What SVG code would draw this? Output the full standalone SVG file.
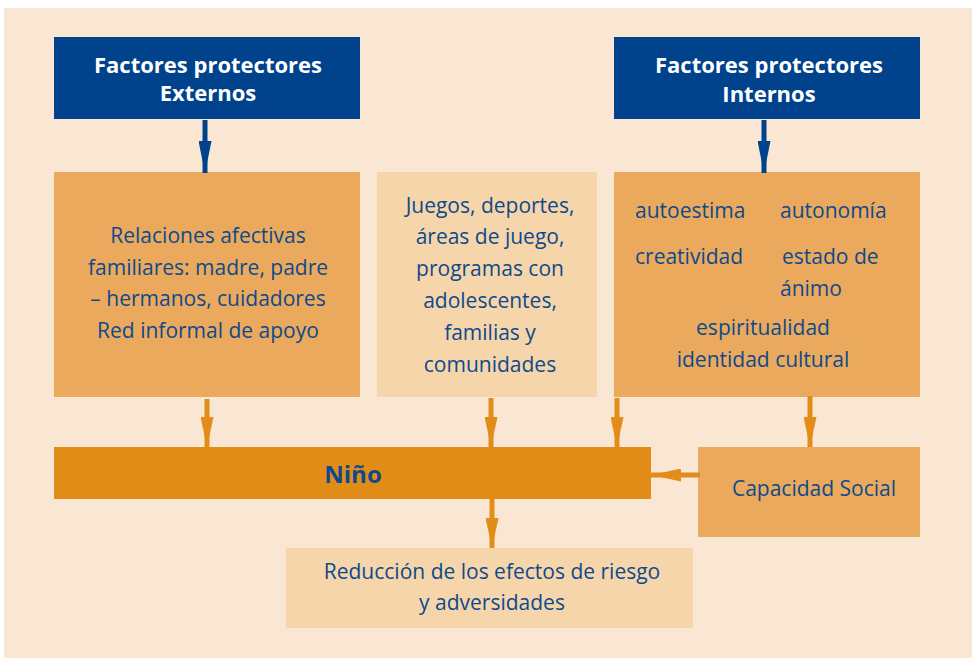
<svg xmlns="http://www.w3.org/2000/svg" width="972" height="658" viewBox="0 0 972 658">
<style>
.t{font-family:"Open Sans","Noto Sans","DejaVu Sans",sans-serif;font-size:21px;fill:#0D4A8C}
.m{text-anchor:middle}
.h{font-family:"Open Sans","Noto Sans","DejaVu Sans",sans-serif;font-size:22px;font-weight:bold;fill:#fff;text-anchor:middle}
.blue{fill:#00438C}
.dark{fill:#EBA95D}
.light{fill:#F6D5AB}
</style>
<defs>
<marker id="ao" markerWidth="6" markerHeight="2.6" refX="6" refY="1.3" orient="auto" markerUnits="strokeWidth"><path d="M0,0 L6,1.3 L0,2.6 Z" fill="#E28C1A"/></marker>
<marker id="ab" markerWidth="6.4" markerHeight="2.6" refX="6.4" refY="1.3" orient="auto" markerUnits="strokeWidth"><path d="M0,0 L6.4,1.3 L0,2.6 Z" fill="#00438C"/></marker>
</defs>
<rect x="4" y="8" width="968" height="650" fill="#F9E7D4"/>
<g id="externos"><rect class="blue" x="54" y="37" width="306" height="82"/><text class="h" x="208" y="73">Factores protectores</text><text class="h" x="208" y="101">Externos</text></g>
<g id="internos"><rect class="blue" x="614" y="37" width="306" height="82"/><text class="h" x="769" y="73">Factores protectores</text><text class="h" x="769" y="102">Internos</text></g>
<g id="relaciones"><rect class="dark" x="54" y="172" width="306" height="225"/>
<text class="t m" x="208" y="243">Relaciones afectivas</text><text class="t m" x="208" y="275">familiares: madre, padre</text><text class="t m" x="208" y="306">– hermanos, cuidadores</text><text class="t m" x="208" y="338">Red informal de apoyo</text></g>
<g id="juegos"><rect class="light" x="377" y="172" width="220" height="225"/>
<text class="t m" x="490" y="213">Juegos, deportes,</text><text class="t m" x="490" y="244">áreas de juego,</text><text class="t m" x="490" y="276">programas con</text><text class="t m" x="490" y="308">adolescentes,</text><text class="t m" x="490" y="340">familias y</text><text class="t m" x="490" y="372">comunidades</text></g>
<g id="internos-lista"><rect class="dark" x="614" y="172" width="306" height="225"/>
<text class="t" x="635" y="218">autoestima</text><text class="t" x="780" y="218">autonomía</text>
<text class="t" x="635" y="264">creatividad</text><text class="t" x="782" y="264">estado de</text><text class="t" x="780" y="296">ánimo</text>
<text class="t m" x="763" y="335">espiritualidad</text><text class="t m" x="763" y="367">identidad cultural</text></g>
<g id="nino"><rect x="54" y="447" width="597" height="52" fill="#E28C18"/><text class="t m" x="353" y="483" style="font-size:24px;font-weight:bold">Niño</text></g>
<g id="capacidad"><rect class="dark" x="698" y="447" width="222" height="90"/><text class="t m" x="814" y="496">Capacidad Social</text></g>
<g id="reduccion"><rect class="light" x="286" y="548" width="407" height="80"/><text class="t m" x="492" y="579">Reducción de los efectos de riesgo</text><text class="t m" x="492" y="610">y adversidades</text></g>
<g id="connectors" stroke-width="5" fill="none">
<line x1="205" y1="120" x2="205" y2="173" stroke="#00438C" marker-end="url(#ab)"/>
<line x1="764" y1="120" x2="764" y2="173" stroke="#00438C" marker-end="url(#ab)"/>
<line x1="207" y1="399" x2="207" y2="447" stroke="#E28C1A" marker-end="url(#ao)"/>
<line x1="491" y1="398" x2="491" y2="447" stroke="#E28C1A" marker-end="url(#ao)"/>
<line x1="617" y1="398" x2="617" y2="447" stroke="#E28C1A" marker-end="url(#ao)"/>
<line x1="810" y1="396" x2="810" y2="447" stroke="#E28C1A" marker-end="url(#ao)"/>
<line x1="700" y1="475" x2="651" y2="475" stroke="#E28C1A" marker-end="url(#ao)"/>
<line x1="492" y1="499" x2="492" y2="548" stroke="#E28C1A" marker-end="url(#ao)"/>
</g>
</svg>
